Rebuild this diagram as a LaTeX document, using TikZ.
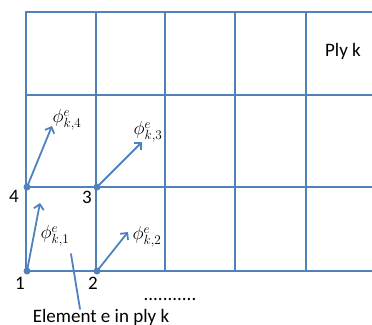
\RequirePackage{fix-cm}
\documentclass[tikz,border=0pt]{standalone}
\usepackage{fontspec}
\setmainfont{Carlito}
\usetikzlibrary{arrows.meta}
\definecolor{xanh}{RGB}{79,129,189}
\begin{document}
\begin{tikzpicture}[x=1pt, y=-1pt, line join=round, line cap=round, >={Straight Barb[length=5pt,width=10pt]},
font=\fontsize{19}{22}\selectfont,
luoi/.style={draw=xanh, line width=2.2pt},
mui/.style={draw=xanh, line width=1.8pt, ->},
diem/.style={circle, fill=xanh, inner sep=0pt, minimum size=7pt}]
\useasboundingbox (0,0) rectangle (372,324);
%Vẽ lưới
\foreach \y in {12,95,187,271}
\draw[luoi] (26,\y)--(380,\y);
\foreach \x in {26,96,165,235,306}
\draw[luoi] (\x,12)--(\x,271);
%Các nút của phần tử
\foreach \n/\x/\y/\lx/\ly in {1/27/271/20/283, 2/97/271/93/283, 3/97/187/87/197, 4/27/187/14/196}
{\node[diem] (n\n) at (\x,\y) {};
\node (s\n) at (\lx,\ly) {\n};}
%Hàm dạng
\foreach \n/\ax/\ay/\px/\py in {1/40/203/55/236, 2/128/232/147/237, 3/142/142/148/132, 4/52/126/67/120}
{\coordinate (a\n) at (\ax,\ay);
\node (p\n) at (\px,\py) {$\phi^{e}_{k,\n}$};
\draw[mui] (n\n.center)--(a\n);}
\node (ply) at (343,51) {Ply k};
\node (cham) at (170,299) {...........};
\node[anchor=base] (el) at (101,322) {Element e in ply k};
\coordinate (c1) at (71,254);
\coordinate (c2) at (80,309);
\draw[xanh, line width=1.8pt] (c1)--(c2);
\end{tikzpicture}
\end{document}
